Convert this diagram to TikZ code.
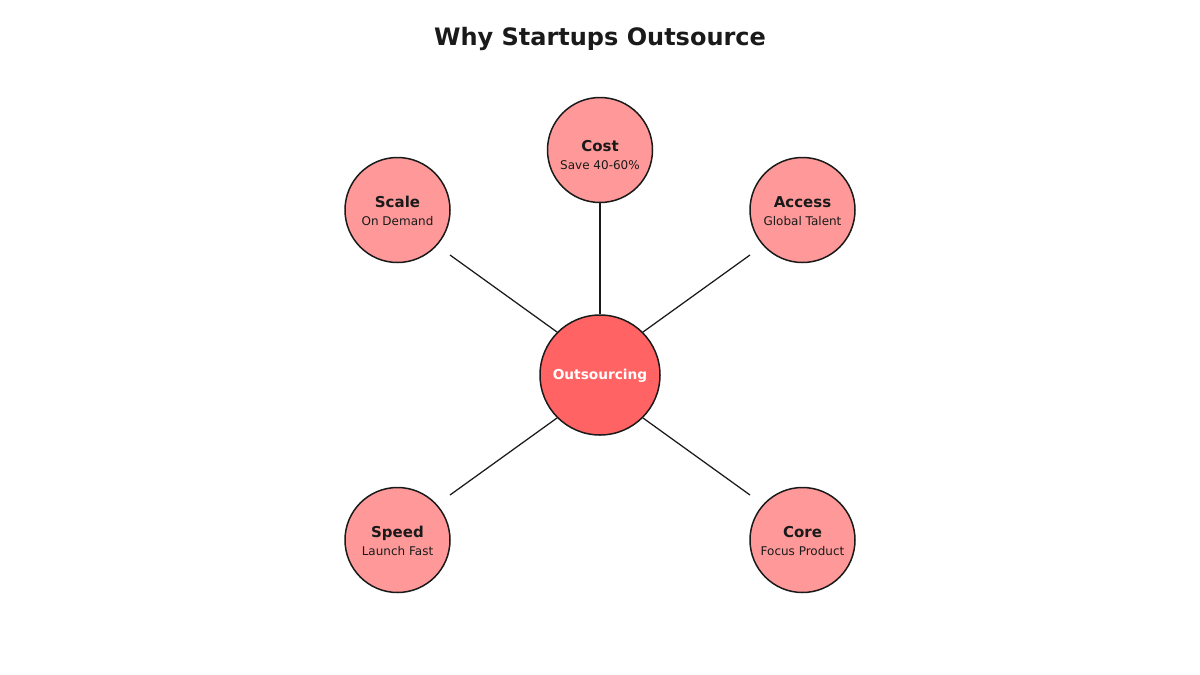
\documentclass[tikz,border=0pt]{standalone}
\usepackage{fontspec}
\setmainfont{DejaVu Sans}
\definecolor{outerfill}{HTML}{FF9999}
\definecolor{centerfill}{HTML}{FF6363}
\definecolor{ink}{HTML}{1A1A1A}
\begin{document}
\begin{tikzpicture}[x=1pt,y=-1pt,
  bubble/.style={circle,draw=ink,line width=1.5pt,fill=outerfill,minimum size=105pt,inner sep=0pt},
  hub/.style={circle,draw=ink,line width=1.5pt,fill=centerfill,minimum size=120pt,inner sep=0pt},
  head/.style={anchor=base,text=ink,font=\fontsize{15}{18}\selectfont\bfseries},
  sub/.style={anchor=base,text=ink,font=\fontsize{12}{15}\selectfont},
  link/.style={draw=ink,line width=1.25pt}]
\useasboundingbox (0,0) rectangle (1200,675);
\fill[white] (0,0) rectangle (1200,675);
\node[anchor=base,text=ink,font=\fontsize{24}{28}\selectfont\bfseries] (title) at (600,45) {Why Startups Outsource};

\node[hub] (ctr) at (600,375) {};
\node[bubble] (cost) at (600,150) {};
\node[bubble] (scale) at (397.5,210) {};
\node[bubble] (access) at (802.5,210) {};
\node[bubble] (speed) at (397.5,540) {};
\node[bubble] (core) at (802.5,540) {};

\coordinate (eScale) at (450,255);
\coordinate (eAccess) at (750,255);
\coordinate (eSpeed) at (450,495);
\coordinate (eCore) at (750,495);

\draw[link] (ctr.north) -- (cost.south);
\draw[link] (ctr.135) -- (eScale);
\draw[link] (ctr.45) -- (eAccess);
\draw[link] (ctr.225) -- (eSpeed);
\draw[link] (ctr.315) -- (eCore);

\node[anchor=base,text=white,font=\fontsize{13.7}{17}\selectfont\bfseries] (ctrtext) at (600,379) {Outsourcing};

\node[head] (costh) at (600,151) {Cost};
\node[sub] (costs) at (600,169) {Save 40-60\%};
\node[head] (scaleh) at (397.5,207) {Scale};
\node[sub] (scales) at (397.5,225) {On Demand};
\node[head] (accessh) at (802.5,207) {Access};
\node[sub] (accesss) at (802.5,225) {Global Talent};
\node[head] (speedh) at (397.5,537) {Speed};
\node[sub] (speeds) at (397.5,555) {Launch Fast};
\node[head] (coreh) at (802.5,537) {Core};
\node[sub] (cores) at (802.5,555) {Focus Product};
\end{tikzpicture}
\end{document}
